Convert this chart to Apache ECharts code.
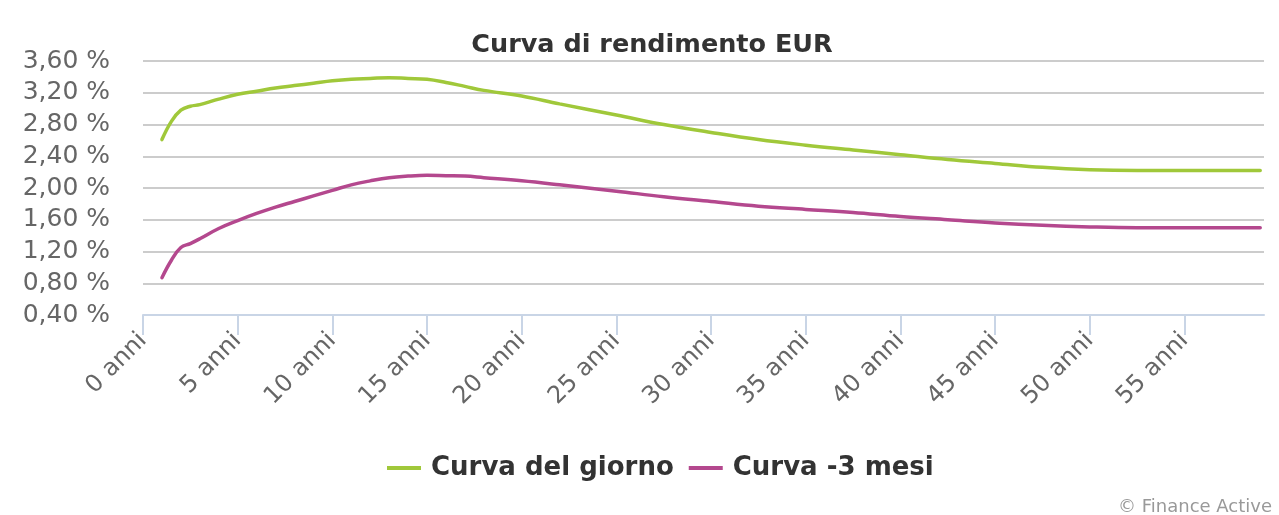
<!DOCTYPE html>
<html>
<head>
<meta charset="utf-8">
<script src="https://cdn.jsdelivr.net/npm/echarts@6/dist/echarts.min.js"></script>
<style>
  html, body { margin: 0; padding: 0; background: #ffffff; }
  #chart { width: 1279px; height: 515px; }
</style>
</head>
<body>
<div id="chart"></div>
<script>
// Maturities (years)
const maturities = [1, 1.5, 2, 2.5, 3, 4, 5, 6, 7, 8, 9, 10, 11, 12, 13, 14, 15, 16, 17, 18, 20, 22, 25, 27.5, 30, 32.5, 35, 37.5, 40, 42.5, 45, 47.5, 50, 52.5, 55, 59];
// Yields (%) for each series
const curvaDelGiorno = [2.61, 2.84, 2.98, 3.03, 3.05, 3.12, 3.18, 3.22, 3.26, 3.29, 3.32, 3.35, 3.37, 3.38, 3.39, 3.38, 3.37, 3.33, 3.28, 3.23, 3.16, 3.06, 2.92, 2.80, 2.70, 2.61, 2.54, 2.48, 2.42, 2.36, 2.31, 2.26, 2.23, 2.22, 2.22, 2.22];
const curvaMeno3Mesi = [0.87, 1.09, 1.25, 1.30, 1.36, 1.49, 1.59, 1.68, 1.76, 1.83, 1.90, 1.97, 2.04, 2.09, 2.13, 2.15, 2.16, 2.155, 2.15, 2.13, 2.09, 2.04, 1.96, 1.89, 1.83, 1.77, 1.73, 1.69, 1.64, 1.60, 1.56, 1.53, 1.51, 1.50, 1.50, 1.50];
// Axis ticks
const xTickYears = [0, 5, 10, 15, 20, 25, 30, 35, 40, 45, 50, 55];
const yTicks = [0.4, 0.8, 1.2, 1.6, 2.0, 2.4, 2.8, 3.2, 3.6];
const seriesNames = ['Curva del giorno', 'Curva -3 mesi'];
const titleText = 'Curva di rendimento EUR';
const creditText = '\u00A9 Finance Active';

const FONT = 'DejaVu Sans';
const chart = echarts.init(document.getElementById('chart'), null, { renderer: 'canvas' });

function pairs(xs, ys) { return xs.map((x, i) => [x, ys[i]]); }

chart.setOption({
  animation: false,
  backgroundColor: '#ffffff',
  title: {
    text: titleText,
    left: 647,
    top: 27,
    textAlign: 'center',
    textStyle: { fontFamily: FONT, fontSize: 25.5, fontWeight: 'bold', color: '#333333' }
  },
  graphic: [{
    type: 'text',
    right: 7,
    top: 498,
    style: { text: creditText, fontFamily: FONT, fontSize: 18, fill: '#999999' }
  }],
  legend: {
    data: seriesNames,
    left: 382,
    top: 450,
    itemWidth: 34,
    itemHeight: 4,
    itemGap: 15,
    icon: 'rect',
    textStyle: { fontFamily: FONT, fontSize: 26, fontWeight: 'bold', color: '#333333', padding: [0, 0, 0, 5] }
  },
  grid: { left: 143, right: 15, top: 61, bottom: 200, containLabel: false },
  xAxis: {
    type: 'value',
    min: 0,
    max: 59.2,
    interval: 5,
    axisLine: { show: true, lineStyle: { color: '#c9d5e6', width: 2 } },
    axisTick: { show: true, length: 20, lineStyle: { color: '#c9d5e6', width: 2 }, customValues: xTickYears },
    splitLine: { show: false },
    axisLabel: {
      customValues: xTickYears,
      rotate: 45,
      margin: 22,
      fontFamily: FONT,
      fontSize: 24,
      color: '#666666',
      formatter: v => v + ' anni'
    }
  },
  yAxis: {
    type: 'value',
    min: yTicks[0],
    max: yTicks[yTicks.length - 1],
    interval: 0.4,
    axisLine: { show: false },
    axisTick: { show: false },
    splitLine: { show: true, lineStyle: { color: '#cccccc', width: 2 } },
    axisLabel: {
      margin: 33,
      fontFamily: FONT,
      fontSize: 25,
      color: '#666666',
      formatter: v => v.toFixed(2).replace('.', ',') + ' %'
    }
  },
  series: [
    {
      name: seriesNames[0],
      type: 'line',
      data: pairs(maturities, curvaDelGiorno),
      smooth: 0.4,
      showSymbol: false,
      symbol: 'none',
      color: '#a0c83a',
      lineStyle: { width: 3.5, color: '#a0c83a', cap: 'round' }
    },
    {
      name: seriesNames[1],
      type: 'line',
      data: pairs(maturities, curvaMeno3Mesi),
      smooth: 0.4,
      showSymbol: false,
      symbol: 'none',
      color: '#b4488e',
      lineStyle: { width: 3.5, color: '#b4488e', cap: 'round' }
    }
  ]
});
</script>
</body>
</html>
